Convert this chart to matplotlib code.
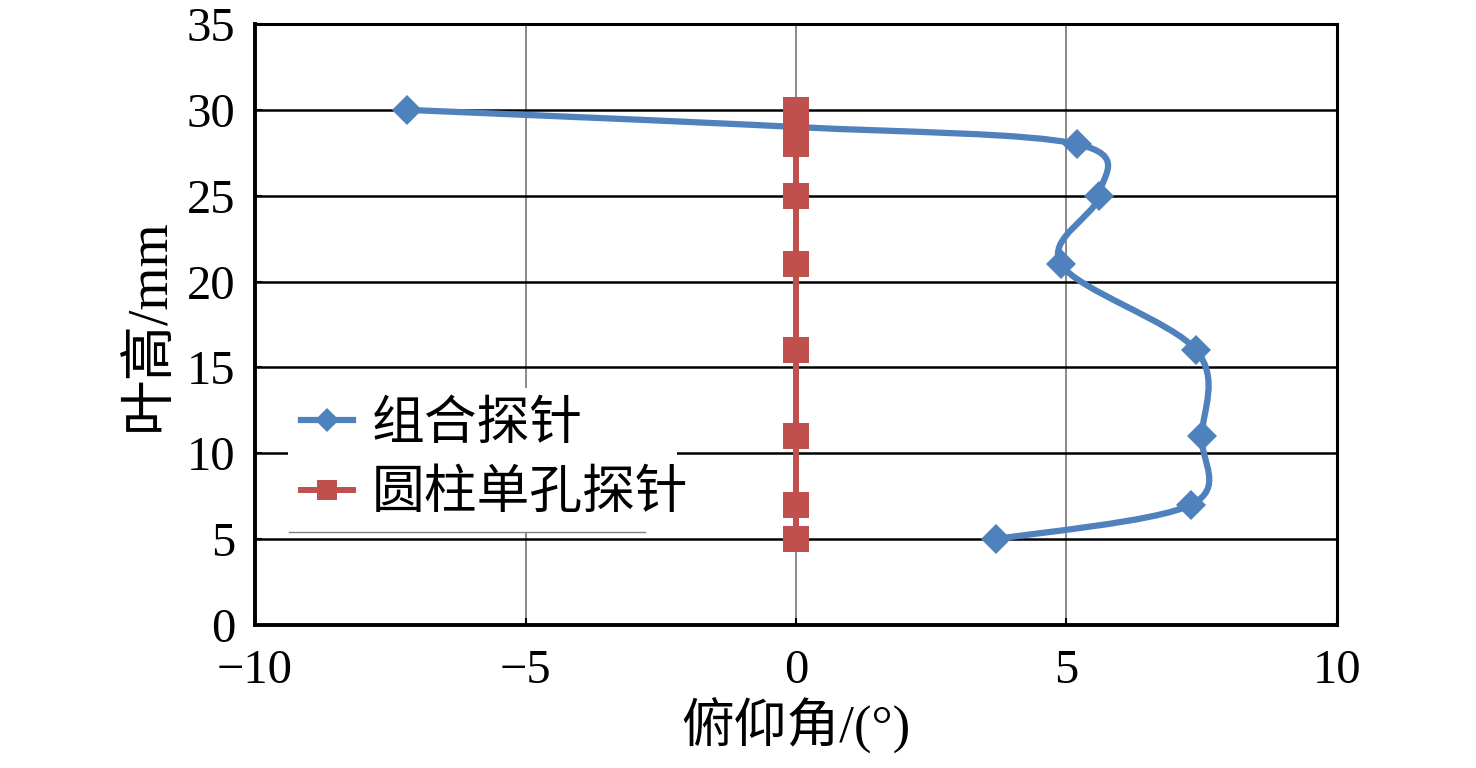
import numpy as np
import matplotlib
matplotlib.use("Agg")
import matplotlib.pyplot as plt
from matplotlib.path import Path
from matplotlib.patches import PathPatch
from matplotlib.lines import Line2D

plt.rcParams["font.family"] = ["Liberation Serif", "Noto Sans CJK SC"]
plt.rcParams["axes.unicode_minus"] = True

# blade height (mm) at each measuring point
heights = [5, 7, 11, 16, 21, 25, 28, 29, 30]
# pitch angle (deg) for each probe
combo_probe = [3.7, 7.3, 7.5, 7.4, 4.9, 5.6, 5.2, 0.0, -7.2]
cyl_probe = [0, 0, 0, 0, 0, 0, 0, 0, 0]

names = ["组合探针", "圆柱单孔探针"]
xlim = (-10, 10)
ylim = (0, 35)
xticks = [-10, -5, 0, 5, 10]
yticks = [0, 5, 10, 15, 20, 25, 30, 35]

BLUE = "#4F81BD"
RED = "#C0504D"


def smooth_path(xs, ys, sx, sy):
    # Excel-style smoothed line: cubic Bezier segments (Catmull-Rom control points)
    p = np.column_stack([np.asarray(xs) * sx, np.asarray(ys) * sy])
    ext = np.vstack([p[0], p, p[-1]])
    verts = [p[0]]
    codes = [Path.MOVETO]
    for i in range(len(p) - 1):
        a, b, c, d = ext[i], ext[i + 1], ext[i + 2], ext[i + 3]
        c1 = b + (c - a) / 6.0
        c2 = c - (d - b) / 6.0
        verts += [c1, c2, c]
        codes += [Path.CURVE4] * 3
    verts = np.array(verts)
    verts[:, 0] /= sx
    verts[:, 1] /= sy
    return Path(verts, codes)


fig = plt.figure(figsize=(14.76, 7.68), dpi=100)
ax = fig.add_axes([0.1728, 0.1862, 0.7330, 0.7826])
ax.set_xlim(*xlim)
ax.set_ylim(*ylim)

ax.set_xticks(xticks)
ax.set_yticks(yticks)
ax.grid(axis="x", color="#808080", linewidth=1.3, zorder=0)
ax.grid(axis="y", color="black", linewidth=1.8, zorder=0)
ax.set_axisbelow(True)

for side in ["left", "bottom"]:
    ax.spines[side].set_linewidth(2.8)
for side in ["top", "right"]:
    ax.spines[side].set_linewidth(2.2)

ax.tick_params(axis="both", direction="in", length=5, width=1.5,
               labelsize=35, colors="black")
ax.tick_params(axis="x", pad=17)
ax.tick_params(axis="y", pad=14)

# pixel scale per data unit so the smoothing is done in screen space
bbox = ax.get_window_extent()
sx = bbox.width / (xlim[1] - xlim[0])
sy = bbox.height / (ylim[1] - ylim[0])

path = smooth_path(combo_probe, heights, sx, sy)
ax.add_patch(PathPatch(path, facecolor="none", edgecolor=BLUE,
                       linewidth=4.5, zorder=3, capstyle="round"))
ax.plot(combo_probe, heights, linestyle="none", marker="D", markersize=15,
        color=BLUE, markeredgewidth=0, zorder=4)

ax.plot(cyl_probe, heights, color=RED, linewidth=4.3, marker="s",
        markersize=19, markeredgewidth=0, zorder=5)

ax.set_xlabel("俯仰角/(°)", fontsize=38, labelpad=4)
ax.set_ylabel("叶高/mm", fontsize=40, labelpad=8)

handles = [
    Line2D([], [], color=BLUE, linewidth=4.5, marker="D", markersize=12,
           markeredgewidth=0),
    Line2D([], [], color=RED, linewidth=4.3, marker="s", markersize=15,
           markeredgewidth=0),
]
leg = ax.legend(handles, names, loc="lower left",
                bbox_to_anchor=(0.03, 0.154, 0.36, 0.28), mode="expand",
                fontsize=38, frameon=True, fancybox=False, framealpha=1,
                edgecolor="none", handlelength=1.0, handletextpad=0.35,
                borderpad=0.25, labelspacing=0.4, borderaxespad=0)
leg.set_zorder(6)
ax.add_line(Line2D([0.031, 0.36], [0.154, 0.154], transform=ax.transAxes,
                   color="#808080", linewidth=1.0, zorder=7))

fig.savefig("out.png", dpi=100)
